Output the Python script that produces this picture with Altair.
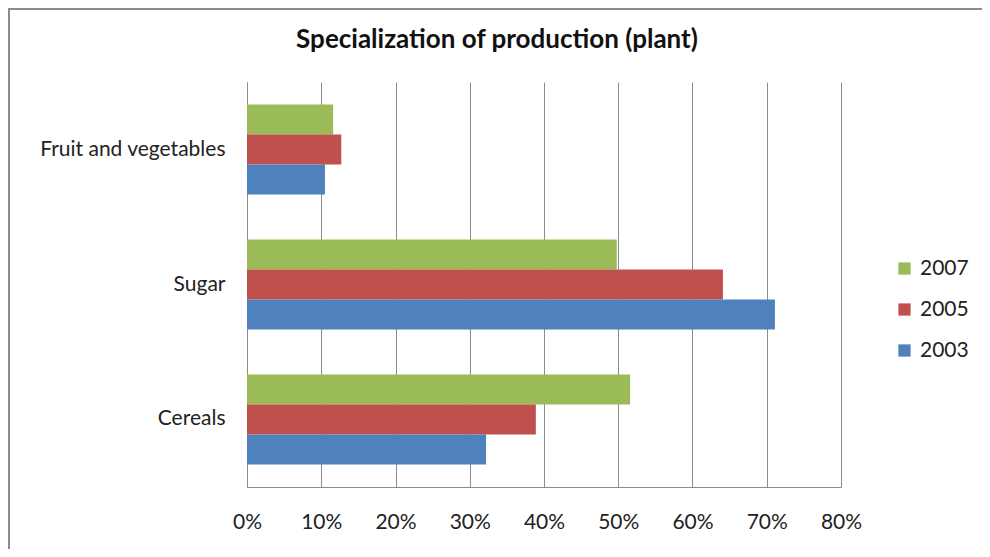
import altair as alt
import pandas as pd

categories = ["Fruit and vegetables", "Sugar", "Cereals"]
years = ["2007", "2005", "2003"]
colors = ["#9BBB59", "#C0504D", "#4F81BD"]
v2007 = [0.116, 0.498, 0.516]
v2005 = [0.127, 0.641, 0.389]
v2003 = [0.105, 0.711, 0.322]
x_ticks = [0, 0.1, 0.2, 0.3, 0.4, 0.5, 0.6, 0.7, 0.8]
title_text = "Specialization of production (plant)"

rows = []
for yr, vals in zip(years, [v2007, v2005, v2003]):
    for c, v in zip(categories, vals):
        rows.append({"category": c, "year": yr, "value": v})
df = pd.DataFrame(rows)

FONT = "Lato"
FS = 21

bars = alt.Chart(df).mark_bar(size=30).encode(
    y=alt.Y("category:N", sort=categories, title=None,
            scale=alt.Scale(paddingInner=0.333, paddingOuter=0.1667),
            axis=alt.Axis(labelFontSize=FS, labelColor="#222", labelPadding=22,
                          ticks=False, domainColor="#8c8c8c", grid=False,
                          labelFont=FONT, labelLimit=400)),
    yOffset=alt.YOffset("year:N", sort=years),
    x=alt.X("value:Q", title=None,
            scale=alt.Scale(domain=[0, 0.8], nice=False),
            axis=alt.Axis(values=x_ticks, format=".0%", labelFontSize=FS,
                          labelColor="#222", labelPadding=24, ticks=False,
                          labelFlush=False,
                          domain=True, domainColor="#8c8c8c", grid=True,
                          gridColor="#8c8c8c", labelFont=FONT)),
    color=alt.Color("year:N", sort=years,
                    scale=alt.Scale(domain=years, range=colors),
                    legend=alt.Legend(title=None, orient="none", legendX=647,
                                      legendY=176, symbolType="square",
                                      symbolSize=150, symbolStrokeWidth=0,
                                      labelFontSize=FS, labelColor="#222",
                                      labelFont=FONT, rowPadding=19,
                                      labelOffset=5)),
)

border = alt.Chart(pd.DataFrame({"a": [0]})).mark_rect(
    fill=None, stroke="#8c8c8c", strokeWidth=2
).encode(
    x=alt.value(-238), x2=alt.value(740), y=alt.value(-73), y2=alt.value(480)
)

title = alt.Chart(pd.DataFrame({"t": [title_text]})).mark_text(
    font=FONT, fontSize=26, fontWeight="bold", color="#111",
    align="center", baseline="middle"
).encode(
    text="t:N", x=alt.value(250), y=alt.value(-42)
)

chart = alt.layer(border, bars, title).properties(
    width=594, height=405,
    autosize=alt.AutoSizeParams(type="none"),
    padding={"left": 239, "top": 74, "right": 141, "bottom": 62},
).configure_view(stroke=None)

chart.save("out.html", embed_options={"renderer": "svg", "actions": False})
